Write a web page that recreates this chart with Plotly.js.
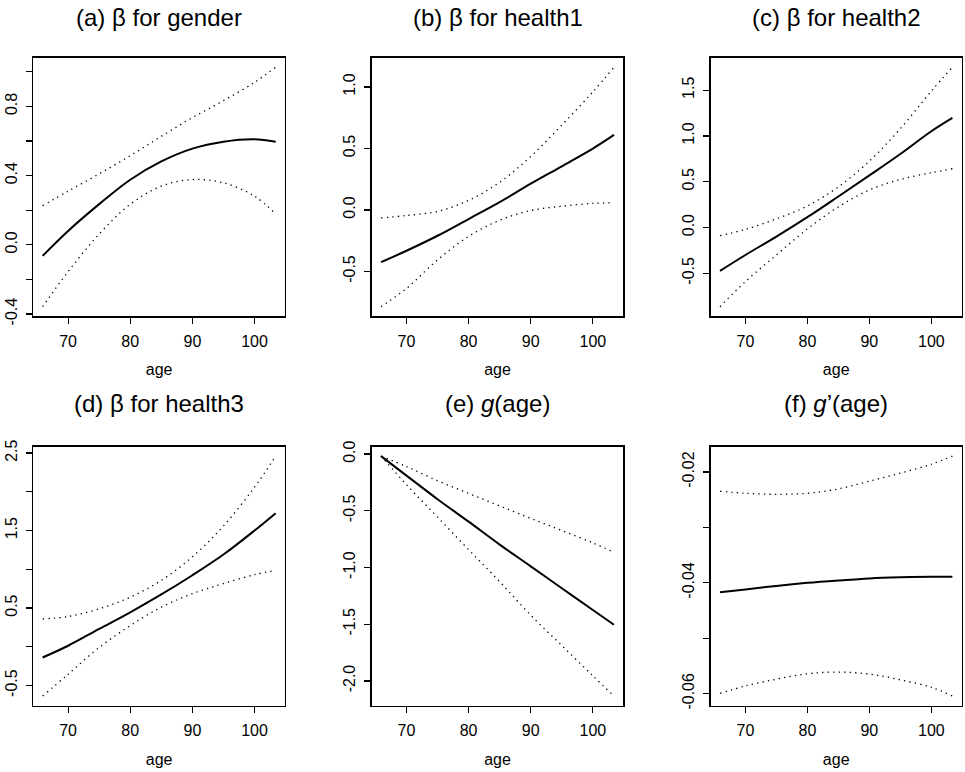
<!DOCTYPE html>
<html>
<head>
<meta charset="utf-8">
<script src="https://cdn.plot.ly/plotly-3.0.1.min.js"></script>
<style>html,body{margin:0;padding:0;background:#fff;}#chart{width:965px;height:772px;}</style>
</head>
<body>
<div id="chart"></div>
<script>
// ---- data ----
const age = [65.9, 70, 75, 80, 85, 90, 95, 100, 103.4];
const xTickVals = [70, 80, 90, 100];
const xTickText = ['70', '80', '90', '100'];

const panelTitles = ['(a) β for gender', '(b) β for health1', '(c) β for health2',
                     '(d) β for health3', '(e) <i>g</i>(age)', '(f) <i>g</i>’(age)'];
const xLabel = 'age';

// (a) gender
const genderEst   = [-0.064, 0.080, 0.235, 0.376, 0.482, 0.556, 0.596, 0.610, 0.596];
const genderUpper = [0.226, 0.310, 0.410, 0.515, 0.627, 0.735, 0.833, 0.939, 1.026];
const genderLower = [-0.358, -0.155, 0.062, 0.234, 0.339, 0.377, 0.358, 0.281, 0.178];
const genderTickVals = [-0.4, -0.2, 0, 0.2, 0.4, 0.6, 0.8, 1.0];
const genderTickText = ['-0.4', '', '0.0', '', '0.4', '', '0.8', ''];

// (b) health1
const health1Est   = [-0.425, -0.332, -0.210, -0.074, 0.063, 0.213, 0.355, 0.499, 0.610];
const health1Upper = [-0.065, -0.045, -0.012, 0.078, 0.225, 0.435, 0.690, 0.960, 1.160];
const health1Lower = [-0.787, -0.638, -0.406, -0.215, -0.084, -0.005, 0.030, 0.054, 0.057];
const health1TickVals = [-0.5, 0, 0.5, 1.0];
const health1TickText = ['-0.5', '0.0', '0.5', '1.0'];

// (c) health2
const health2Est   = [-0.474, -0.300, -0.099, 0.113, 0.339, 0.569, 0.803, 1.051, 1.197];
const health2Upper = [-0.088, -0.020, 0.095, 0.235, 0.445, 0.725, 1.080, 1.490, 1.750];
const health2Lower = [-0.865, -0.590, -0.300, -0.015, 0.225, 0.410, 0.525, 0.598, 0.642];
const health2TickVals = [-0.5, 0, 0.5, 1.0, 1.5];
const health2TickText = ['-0.5', '0.0', '0.5', '1.0', '1.5'];

// (d) health3
const health3Est   = [-0.139, 0.013, 0.230, 0.445, 0.675, 0.923, 1.190, 1.500, 1.724];
const health3Upper = [0.360, 0.390, 0.490, 0.640, 0.858, 1.161, 1.560, 2.060, 2.461];
const health3Lower = [-0.637, -0.355, -0.009, 0.273, 0.511, 0.685, 0.815, 0.930, 0.988];
const health3TickVals = [-0.5, 0, 0.5, 1.0, 1.5, 2.0, 2.5];
const health3TickText = ['-0.5', '', '0.5', '', '1.5', '', '2.5'];

// (e) g(age)
const gEst   = [-0.018, -0.190, -0.398, -0.596, -0.798, -0.990, -1.183, -1.375, -1.505];
const gUpper = [-0.018, -0.110, -0.235, -0.347, -0.457, -0.567, -0.674, -0.783, -0.866];
const gLower = [-0.018, -0.270, -0.556, -0.843, -1.125, -1.421, -1.688, -1.955, -2.134];
const gTickVals = [-2.0, -1.5, -1.0, -0.5, 0];
const gTickText = ['-2.0', '-1.5', '-1.0', '-0.5', '0.0'];

// (f) g'(age)
const gpEst   = [-0.0417, -0.0412, -0.04055, -0.0400, -0.03957, -0.0392, -0.0390, -0.0389, -0.0389];
const gpUpper = [-0.02348, -0.02384, -0.02402, -0.02384, -0.02305, -0.02165, -0.0202, -0.0186, -0.01713];
const gpLower = [-0.05994, -0.0586, -0.05738, -0.0564, -0.0561, -0.05646, -0.0575, -0.05884, -0.06043];
const gpTickVals = [-0.06, -0.05, -0.04, -0.03, -0.02];
const gpTickText = ['-0.06', '', '-0.04', '', '-0.02'];

// ---- build ----
const panels = [
  {est: genderEst, up: genderUpper, lo: genderLower, tv: genderTickVals, tt: genderTickText},
  {est: health1Est, up: health1Upper, lo: health1Lower, tv: health1TickVals, tt: health1TickText},
  {est: health2Est, up: health2Upper, lo: health2Lower, tv: health2TickVals, tt: health2TickText},
  {est: health3Est, up: health3Upper, lo: health3Lower, tv: health3TickVals, tt: health3TickText},
  {est: gEst, up: gUpper, lo: gLower, tv: gTickVals, tt: gTickText},
  {est: gpEst, up: gpUpper, lo: gpLower, tv: gpTickVals, tt: gpTickText}
];

const W = 965, H = 772;
const colPx = [[33.3, 285], [371.7, 623.3], [710.7, 961.7]];
const rowPx = [[57.7, 316.3], [446.5, 705.7]];
const titleY = [18, 403];
const font = 'Liberation Sans, Arial, Helvetica, sans-serif';

function pad(arrs) {
  let mn = Infinity, mx = -Infinity;
  arrs.forEach(a => a.forEach(v => { mn = Math.min(mn, v); mx = Math.max(mx, v); }));
  const d = (mx - mn) * 0.04;
  return [mn - d, mx + d];
}

const traces = [];
const layout = {
  width: W, height: H,
  margin: {l: 0, r: 0, t: 0, b: 0},
  paper_bgcolor: '#fff', plot_bgcolor: '#fff',
  showlegend: false,
  font: {family: font, color: '#000', size: 16},
  annotations: []
};

const xr = pad([age]);

panels.forEach((p, i) => {
  const r = Math.floor(i / 3), c = i % 3;
  const sfx = i === 0 ? '' : String(i + 1);
  const xa = 'x' + sfx, ya = 'y' + sfx;
  const lineCommon = {x: age, xaxis: xa, yaxis: ya, mode: 'lines', hoverinfo: 'skip'};
  const dotted = {color: '#000', width: 1.3, dash: '1.3px,4.2px', shape: 'spline', smoothing: 1};
  traces.push(Object.assign({}, lineCommon, {y: p.up, line: dotted}));
  traces.push(Object.assign({}, lineCommon, {y: p.lo, line: dotted}));
  traces.push(Object.assign({}, lineCommon, {y: p.est, line: {color: '#000', width: 2, shape: 'spline', smoothing: 1}}));

  const axBase = {
    showline: true, mirror: true, linecolor: '#000', linewidth: 1.3,
    ticks: 'outside', ticklen: 6, tickwidth: 1.2, tickcolor: '#000',
    showgrid: false, zeroline: false, fixedrange: true,
    tickfont: {family: font, size: 16, color: '#000'}
  };
  layout['xaxis' + sfx] = Object.assign({}, axBase, {
    domain: [colPx[c][0] / W, colPx[c][1] / W],
    anchor: ya, range: xr,
    tickmode: 'array', tickvals: xTickVals, ticktext: xTickText,
    ticklabelstandoff: 4,
    title: {text: xLabel, font: {family: font, size: 16, color: '#000'}, standoff: 15}
  });
  layout['yaxis' + sfx] = Object.assign({}, axBase, {
    domain: [1 - rowPx[r][1] / H, 1 - rowPx[r][0] / H],
    anchor: xa, range: pad([p.est, p.up, p.lo]),
    tickmode: 'array', tickvals: p.tv, ticktext: p.tt,
    tickangle: -90, ticklabelstandoff: 3
  });
  layout.annotations.push({
    text: panelTitles[i], xref: 'paper', yref: 'paper',
    x: (colPx[c][0] + colPx[c][1]) / 2 / W, y: 1 - titleY[r] / H,
    xanchor: 'center', yanchor: 'middle', showarrow: false,
    font: {family: font, size: 24, color: '#000'}
  });
});

Plotly.newPlot('chart', traces, layout, {displayModeBar: false, staticPlot: true});
</script>
</body>
</html>
